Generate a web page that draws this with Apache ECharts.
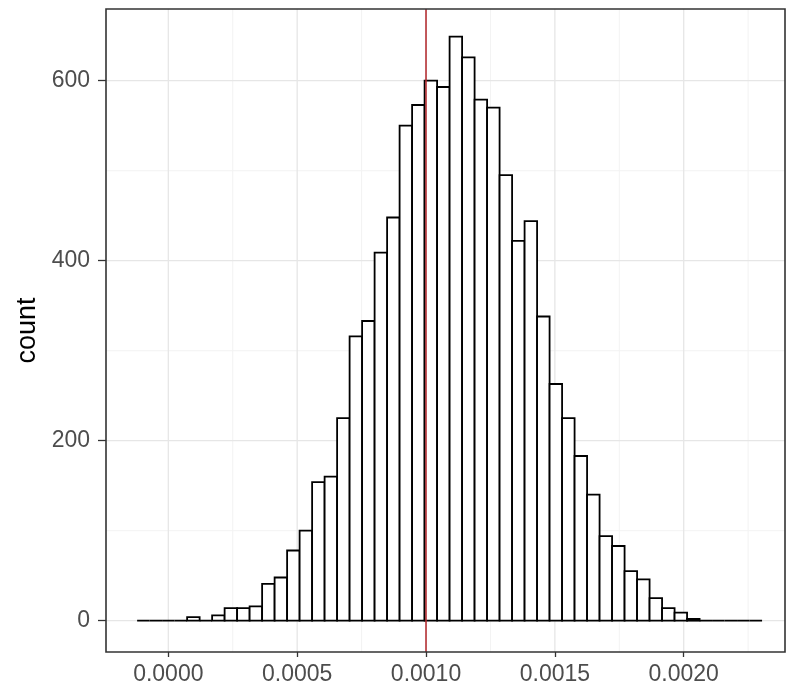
<!DOCTYPE html>
<html><head><meta charset="utf-8">
<script src="https://cdn.jsdelivr.net/npm/echarts@6/dist/echarts.min.js"></script>
<style>html,body{margin:0;padding:0;background:#fff}#c{width:786px;height:694px}</style>
</head><body><div id="c"></div>
<script>
// histogram bins (50 bins)
const binStart = -0.000121;
const binWidth = 0.0000485;
const counts = [0,0,0,0,4,0,6,14,14,16,41,48,78,100,154,160,225,316,333,409,448,550,573,600,593,649,626,579,570,495,422,444,338,263,225,183,140,94,83,55,46,25,14,9,2,0,0,0,0,0];
const xTicks = [0, 0.0005, 0.001, 0.0015, 0.002];
const xTickLabels = ['0.0000', '0.0005', '0.0010', '0.0015', '0.0020'];
const xMinor = [0.00025, 0.00075, 0.00125, 0.00175, 0.00225];
const yTicks = [0, 200, 400, 600];
const yTickLabels = ['0', '200', '400', '600'];
const yMinor = [100, 300, 500];
const vlineX = [0.001];
const xRange = [-0.0002418, 0.002393];
const yRange = [-34.8, 679.7];

const binData = counts.map((c, i) => [binStart + i * binWidth, binStart + (i + 1) * binWidth, c]);
const FONT = 'Liberation Sans, Arial, sans-serif';

function vLines(color, width) {
  return function (params, api) {
    const v = api.value(0);
    const a = api.coord([v, yRange[0]]), b = api.coord([v, yRange[1]]);
    return {type: 'line', shape: {x1: a[0], y1: a[1], x2: b[0], y2: b[1]}, style: {stroke: color, lineWidth: width}};
  };
}
function hLines(color, width) {
  return function (params, api) {
    const v = api.value(0);
    const a = api.coord([xRange[0], v]), b = api.coord([xRange[1], v]);
    return {type: 'line', shape: {x1: a[0], y1: a[1], x2: b[0], y2: b[1]}, style: {stroke: color, lineWidth: width}};
  };
}

const chart = echarts.init(document.getElementById('c'), null, {renderer: 'canvas'});
chart.setOption({
  animation: false,
  backgroundColor: '#ffffff',
  grid: {left: 106, right: 1, top: 9, bottom: 42, show: true, borderColor: '#333333', borderWidth: 1.6, backgroundColor: 'transparent', z: 5},
  xAxis: {
    type: 'value', min: xRange[0], max: xRange[1],
    axisLine: {show: false, onZero: false},
    splitLine: {show: false},
    axisTick: {show: true, customValues: xTicks, length: 5, lineStyle: {color: '#333333', width: 1.3}},
    axisLabel: {customValues: xTicks, margin: 11, color: '#4D4D4D', fontSize: 23, fontFamily: FONT,
      formatter: v => xTickLabels[xTicks.findIndex(t => Math.abs(t - v) < 1e-9)] ?? ''}
  },
  yAxis: {
    type: 'value', min: yRange[0], max: yRange[1],
    name: 'count', nameLocation: 'middle', nameRotate: 90, nameGap: 63,
    nameTextStyle: {color: '#000', fontSize: 27, fontFamily: FONT},
    axisLine: {show: false, onZero: false},
    splitLine: {show: false},
    axisTick: {show: true, customValues: yTicks, length: 8, lineStyle: {color: '#333333', width: 1.3}},
    axisLabel: {customValues: yTicks, margin: 16, color: '#4D4D4D', fontSize: 23, fontFamily: FONT,
      formatter: v => yTickLabels[yTicks.findIndex(t => Math.abs(t - v) < 1e-6)] ?? ''}
  },
  series: [
    {type: 'custom', z: 1, silent: true, data: xMinor.map(v => [v]), encode: {x: 0}, renderItem: vLines('#F3F3F3', 1)},
    {type: 'custom', z: 1, silent: true, data: yMinor.map(v => [v]), encode: {y: 0}, renderItem: hLines('#F3F3F3', 1)},
    {type: 'custom', z: 1, silent: true, data: xTicks.map(v => [v]), encode: {x: 0}, renderItem: vLines('#E6E6E6', 1.3)},
    {type: 'custom', z: 1, silent: true, data: yTicks.map(v => [v]), encode: {y: 0}, renderItem: hLines('#E6E6E6', 1.3)},
    {
      type: 'custom', z: 2, data: binData, encode: {x: [0, 1], y: 2},
      renderItem: function (params, api) {
        const x0 = api.value(0), x1 = api.value(1), c = api.value(2);
        const p0 = api.coord([x0, 0]);
        const p1 = api.coord([x1, c]);
        return {type: 'rect', shape: {x: p0[0], y: p1[1], width: p1[0] - p0[0], height: p0[1] - p1[1]},
          style: {fill: '#ffffff', stroke: '#000000', lineWidth: 1.8}};
      }
    },
    {type: 'custom', z: 3, silent: true, data: vlineX.map(v => [v]), encode: {x: 0}, renderItem: vLines('#B3262B', 1.5)}
  ]
});
</script></body></html>
